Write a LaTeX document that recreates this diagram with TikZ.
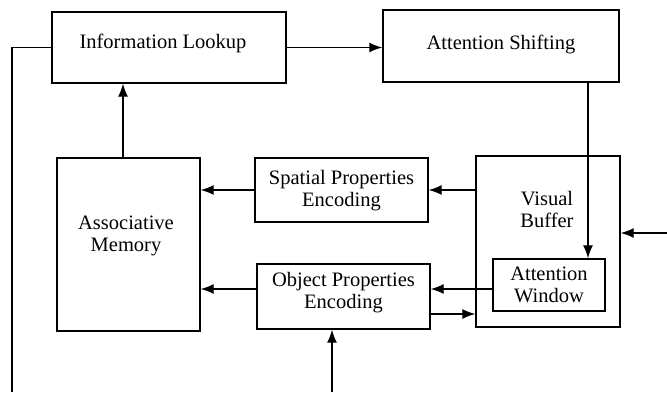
\documentclass[tikz,border=0pt]{standalone}
\usepackage{fontspec}
\setmainfont{Liberation Serif}
\usetikzlibrary{arrows.meta,calc}

\tikzset{
  box/.style={draw,line width=1.4pt,minimum width=#1,inner sep=0pt,align=center},
  arr/.style={line width=1.3pt,-{Latex[length=13pt,width=10pt]}},
  txt/.style={font=\fontsize{20.5}{22}\selectfont,align=center,inner sep=0pt}
}

\begin{document}
\begin{tikzpicture}[x=1pt,y=-1pt]
    \useasboundingbox (0,0) rectangle (667,392);
    % boxes
    \node[box=234pt,minimum height=71pt] (lookup) at (169,47.5) {};
    \node[txt] (lookuptxt) at (163,43) {Information Lookup};
    \node[box=236pt,minimum height=72pt] (shift) at (501,46) {};
    \node[txt] (shifttxt) at (501,44) {Attention Shifting};
    \node[box=143pt,minimum height=173pt] (memory) at (128.5,244.5) {};
    \node[txt] (memorytxt) at (126,236) {Associative\\Memory};
    \node[box=173pt,minimum height=64pt] (spatial) at (341.5,190) {};
    \node[txt] (spatialtxt) at (341.5,191) {Spatial Properties\\Encoding};
    \node[box=173pt,minimum height=65pt] (object) at (343.5,296.5) {};
    \node[txt] (objecttxt) at (343.5,293) {Object Properties\\Encoding};
    \node[box=144pt,minimum height=171pt] (buffer) at (548,241.5) {};
    \node[txt] (buffertxt) at (547,209) {Visual\\Buffer};
    \node[box=112pt,minimum height=52pt] (window) at (549,285) {};
    \node[txt] (windowtxt) at (549,285) {Attention\\Window};
    % free ends
    \coordinate (leftend) at (12,392);
    \coordinate (bottomend) at (332,392);
    \coordinate (rightend) at (667,233);
    % connectors
    \draw[arr] (lookup.east) -- (lookup.east -| shift.west);
    \draw[line width=1.3pt] (lookup.west) -| (leftend);
    \draw[arr] ([xshift=-5.5pt]memory.north) -- ([xshift=-5.5pt]memory.north |- lookup.south);
    \draw[arr] ([xshift=87pt]shift.south) -- ([xshift=87pt]shift.south |- window.north);
    \draw[arr] (buffer.west |- spatial.east) -- (spatial.east);
    \draw[arr] (spatial.west) -- (spatial.west -| memory.east);
    \draw[arr] ([yshift=-4pt]window.west) -- ([yshift=-4pt]window.west -| object.east);
    \draw[arr] ([yshift=7.5pt]object.west) -- ([yshift=7.5pt]object.west -| memory.east);
    \draw[arr] ([yshift=-17.5pt]object.east) -- ([yshift=-17.5pt]object.east -| buffer.west);
    \draw[arr] (bottomend) -- (bottomend |- object.south);
    \draw[arr] (rightend) -- (rightend -| buffer.east);
\end{tikzpicture}
\end{document}
